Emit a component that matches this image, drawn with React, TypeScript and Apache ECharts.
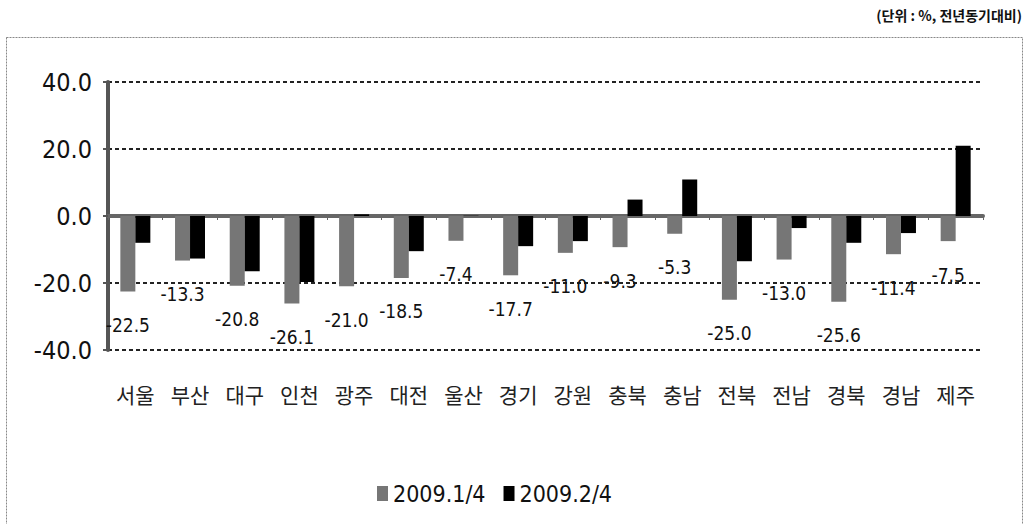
import React, { useEffect, useRef } from "react";
import * as echarts from "echarts";

const categories = ["서울", "부산", "대구", "인천", "광주", "대전", "울산", "경기", "강원", "충북", "충남", "전북", "전남", "경북", "경남", "제주"];
const seriesQ1 = [-22.5, -13.3, -20.8, -26.1, -21.0, -18.5, -7.4, -17.7, -11.0, -9.3, -5.3, -25.0, -13.0, -25.6, -11.4, -7.5];
const seriesQ2 = [-8.0, -12.7, -16.5, -19.7, 0.5, -10.5, 0.1, -9.0, -7.5, 4.9, 10.9, -13.5, -3.6, -8.0, -5.1, 21.0];
const seriesNames = ["2009.1/4", "2009.2/4"];
const yTicks = { min: -40, max: 40, interval: 20 };
const unitText = "(단위 : %, 전년동기대비)";

const NUM_FONT = "'Liberation Sans Narrow', 'DejaVu Sans Condensed', 'Liberation Sans', sans-serif";
const KR_FONT = "'Noto Sans CJK KR', sans-serif";

export default function App() {
  const ref = useRef<HTMLDivElement>(null);
  useEffect(() => {
    document.body.style.margin = "0";
    const chart = echarts.init(ref.current!, null, { renderer: "svg" });
    chart.setOption({
      animation: false,
      backgroundColor: "#ffffff",
      graphic: [
        {
          type: "rect",
          shape: { x: 6.5, y: 37.5, width: 1016, height: 500 },
          style: { fill: "none", stroke: "#888", lineWidth: 1, lineDash: [2, 1] },
          silent: true,
        },
        {
          type: "text",
          right: 10,
          top: 8,
          style: { text: unitText, font: `bold 14px ${KR_FONT}`, fill: "#111" },
        },
      ],
      legend: {
        top: 477,
        left: 372,
        data: seriesNames,
        icon: "rect",
        itemWidth: 11,
        itemHeight: 15,
        itemGap: 18,
        textStyle: { fontSize: 23, fontFamily: NUM_FONT, color: "#111" },
      },
      grid: { left: 108, right: 49, top: 82, bottom: 174, containLabel: false },
      xAxis: [
        {
          type: "category",
          data: categories,
          axisLine: { onZero: true, lineStyle: { color: "#666", width: 4 } },
          axisTick: { show: true, length: 4, lineStyle: { color: "#666", width: 1 } },
          axisLabel: { show: false },
          splitLine: { show: false },
        },
        {
          type: "category",
          data: categories,
          position: "bottom",
          axisLine: { show: false, onZero: false },
          axisTick: { show: false },
          axisLabel: { margin: 33, fontSize: 21, fontFamily: KR_FONT, color: "#222" },
          splitLine: { show: false },
        },
      ],
      yAxis: {
        type: "value",
        min: yTicks.min,
        max: yTicks.max,
        interval: yTicks.interval,
        axisLine: { show: true, lineStyle: { color: "#555", width: 4 } },
        axisTick: { show: true, length: 5, lineStyle: { color: "#555", width: 2 } },
        axisLabel: {
          formatter: (v: number) => v.toFixed(1),
          fontSize: 25,
          fontFamily: NUM_FONT,
          color: "#111",
          margin: 16,
        },
        splitLine: { show: true, lineStyle: { color: "#222", width: 2, type: [4, 3] } },
      },
      series: [
        {
          name: seriesNames[0],
          type: "bar",
          xAxisIndex: 0,
          data: seriesQ1,
          barWidth: 15,
          barGap: "0%",
          itemStyle: { color: "#767676" },
          label: {
            show: true,
            position: "bottom",
            distance: 24,
            formatter: (p: any) => Number(p.value).toFixed(1),
            fontSize: 19,
            fontFamily: NUM_FONT,
            color: "#111",
          },
        },
        {
          name: seriesNames[1],
          type: "bar",
          xAxisIndex: 0,
          data: seriesQ2,
          barWidth: 15,
          barGap: "0%",
          itemStyle: { color: "#000000" },
        },
      ],
    });
    return () => chart.dispose();
  }, []);
  return <div ref={ref} style={{ width: 1032, height: 524 }} />;
}
